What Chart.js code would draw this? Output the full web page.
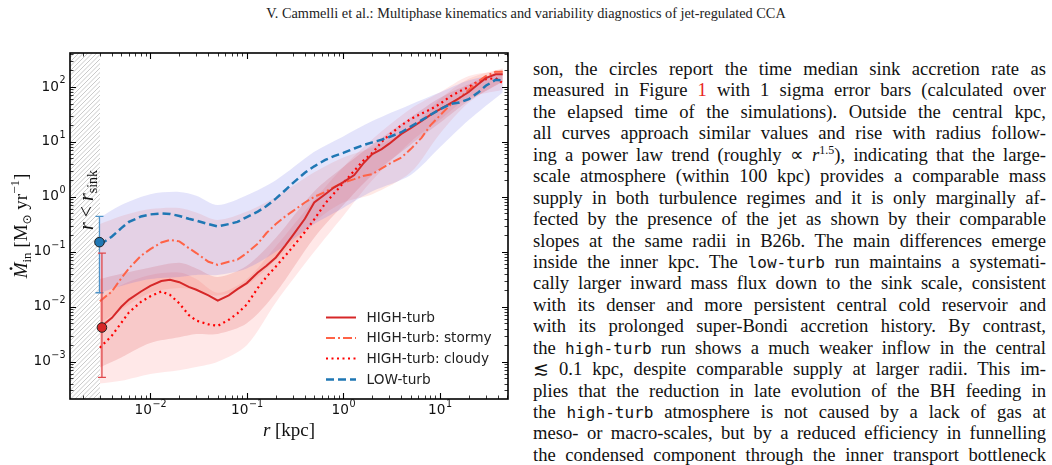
<!DOCTYPE html>
<html>
<head>
<meta charset="utf-8">
<script src="https://cdn.jsdelivr.net/npm/chart.js@4.4.1/dist/chart.umd.min.js"></script>
<style>
  body { margin: 0; width: 1052px; height: 465px; background: #fff; position: relative; overflow: hidden; }
  #header { position: absolute; top: 5px; left: 0; width: 1052px; text-align: center; font: 14.3px "Liberation Serif"; color: #222; }
  #chartBox { position: absolute; left: 0; top: 0; }
  #text { position: absolute; left: 533px; top: 58px; width: 513px; font: 18.6px "Liberation Serif"; color: #111; }
  #text div { height: 21.45px; line-height: 21.45px; text-align: justify; text-align-last: justify; overflow: hidden; }
  #text tt { font: 16px "DejaVu Sans Mono"; }
  #text sup { font-size: 12px; line-height: 0; vertical-align: 7px; }
  .red { color: #e8261c; }
</style>
</head>
<body>
<div id="header">V. Cammelli et al.: Multiphase kinematics and variability diagnostics of jet-regulated CCA</div>
<div id="chartBox"><canvas id="myChart" width="520" height="465"></canvas></div>
<div id="text">
  <div>son, the circles report the time median sink accretion rate as</div>
  <div>measured in Figure <span class="red">1</span> with 1 sigma error bars (calculated over</div>
  <div>the elapsed time of the simulations). Outside the central kpc,</div>
  <div>all curves approach similar values and rise with radius follow-</div>
  <div>ing a power law trend (roughly ∝ <i>r</i><sup>1.5</sup>), indicating that the large-</div>
  <div>scale atmosphere (within 100 kpc) provides a comparable mass</div>
  <div>supply in both turbulence regimes and it is only marginally af-</div>
  <div>fected by the presence of the jet as shown by their comparable</div>
  <div>slopes at the same radii in B26b. The main differences emerge</div>
  <div>inside the inner kpc. The <tt>low-turb</tt> run maintains a systemati-</div>
  <div>cally larger inward mass flux down to the sink scale, consistent</div>
  <div>with its denser and more persistent central cold reservoir and</div>
  <div>with its prolonged super-Bondi accretion history. By contrast,</div>
  <div>the <tt>high-turb</tt> run shows a much weaker inflow in the central</div>
  <div>≲ 0.1 kpc, despite comparable supply at larger radii. This im-</div>
  <div>plies that the reduction in late evolution of the BH feeding in</div>
  <div>the <tt>high-turb</tt> atmosphere is not caused by a lack of gas at</div>
  <div>meso- or macro-scales, but by a reduced efficiency in funnelling</div>
  <div>the condensed component through the inner transport bottleneck</div>
</div>
<script>
// radius [kpc] for the median profiles
const radius = [0.003, 0.004, 0.005, 0.006, 0.008, 0.01, 0.013, 0.016, 0.02, 0.025, 0.03, 0.04, 0.05, 0.065, 0.08, 0.1, 0.13, 0.16, 0.2, 0.25, 0.3, 0.4, 0.5, 0.65, 0.8, 1, 1.3, 1.6, 2, 2.5, 3, 4, 5, 6.5, 8, 10, 13, 16, 20, 25, 30, 38, 45];

// median inflow rate [Msun/yr]
const highTurb = [0.0042, 0.0063, 0.010, 0.0135, 0.019, 0.024, 0.0295, 0.031, 0.028, 0.023, 0.0204, 0.0162, 0.0129, 0.0162, 0.021, 0.027, 0.042, 0.056, 0.079, 0.13, 0.20, 0.40, 0.79, 1.12, 1.48, 1.86, 2.5, 4.0, 6.0, 7.4, 9.3, 14, 17.8, 24, 31, 39, 51, 63, 81, 112, 145, 170, 170];
const highStormy = [0.0126, 0.019, 0.033, 0.050, 0.085, 0.112, 0.148, 0.165, 0.155, 0.117, 0.095, 0.066, 0.058, 0.066, 0.072, 0.095, 0.141, 0.22, 0.32, 0.44, 0.55, 0.79, 1.0, 1.23, 1.51, 1.82, 2.1, 2.4, 2.6, 3.3, 4.0, 5.2, 7.4, 12, 20, 30, 48, 63, 89, 126, 158, 190, 190];
const highCloudy = [0.0018, 0.0030, 0.0051, 0.0079, 0.0123, 0.0155, 0.019, 0.0165, 0.0115, 0.0071, 0.0056, 0.0048, 0.0045, 0.0058, 0.0076, 0.011, 0.022, 0.035, 0.054, 0.085, 0.123, 0.23, 0.39, 0.76, 1.15, 1.78, 3.0, 4.5, 6.3, 10, 13.5, 20, 26, 33, 39, 49, 68, 83, 100, 126, 138, 145, 117];
const lowTurb = [0.135, 0.19, 0.27, 0.35, 0.44, 0.48, 0.50, 0.49, 0.45, 0.40, 0.37, 0.32, 0.29, 0.32, 0.35, 0.43, 0.54, 0.68, 0.93, 1.32, 1.78, 2.75, 3.6, 4.7, 5.5, 6.3, 7.6, 8.7, 9.8, 11, 12.3, 15, 19, 25, 31, 39, 49, 52, 60, 79, 105, 135, 132];

// spread around the medians
const bandRadius = [0.003, 0.005, 0.01, 0.02, 0.03, 0.05, 0.1, 0.2, 0.5, 1, 2, 5, 10, 20, 45];
const lowUpper = [0.42, 0.71, 1.12, 1.23, 1.05, 0.71, 1.07, 2.0, 6.6, 12.6, 24, 48, 79, 132, 178];
const lowLower = [0.018, 0.024, 0.032, 0.035, 0.038, 0.038, 0.05, 0.1, 0.32, 0.63, 1.26, 2.5, 7.9, 25, 79];
const highUpper = [0.032, 0.040, 0.052, 0.063, 0.050, 0.035, 0.056, 0.18, 1.26, 3.5, 8.9, 28, 63, 112, 210];
const highLower = [0.00079, 0.0012, 0.0022, 0.0028, 0.0032, 0.0032, 0.005, 0.018, 0.18, 0.71, 2.5, 8.9, 22, 56, 126];
const stormyUpper = [0.32, 0.45, 0.60, 0.63, 0.52, 0.38, 0.54, 1.0, 2.8, 5.2, 7.9, 17.8, 60, 141, 220];
const stormyLower = [0.005, 0.0089, 0.018, 0.022, 0.02, 0.016, 0.025, 0.071, 0.35, 0.79, 1.12, 2.8, 14, 52, 126];
const cloudyUpper = [0.014, 0.025, 0.038, 0.042, 0.032, 0.018, 0.032, 0.126, 0.89, 3.5, 11.2, 40, 79, 158, 200];
const cloudyLower = [0.0004, 0.00045, 0.0006, 0.0007, 0.0008, 0.001, 0.002, 0.012, 0.1, 0.45, 2.0, 10, 25, 63, 89];

// sink accretion rate (time median, 1 sigma)
const sinkRadius = [0.00297, 0.00315];
const sinkRate = [0.15, 0.0042];
const sinkLow = [0.018, 0.00052];
const sinkHigh = [0.44, 0.095];
const sinkColors = ['#1f77b4', '#d62728'];
const sinkBarColors = ['#4d93c9', '#e0474a'];

const rSink = 0.003;
const xMin = 0.00147, xMax = 51;
const yMin = 2.1e-4, yMax = 415;
const xTicks = [-2, -1, 0, 1];
const yTicks = [-3, -2, -1, 0, 1, 2];

const legendNames = ['HIGH-turb', 'HIGH-turb: stormy', 'HIGH-turb: cloudy', 'LOW-turb'];

function pts(xs, ys) {
  return xs.map((x, i) => ({ x: x, y: ys[i] }));
}

function band(xs, lo, hi, color) {
  return [
    { data: pts(xs, lo), borderWidth: 0, pointRadius: 0, fill: false, order: 10, tension: 0.3 },
    { data: pts(xs, hi), borderWidth: 0, pointRadius: 0, fill: '-1', backgroundColor: color, order: 10, tension: 0.3 },
  ];
}

const lines = [
  { label: legendNames[0], data: pts(radius, highTurb), borderColor: '#d62728', borderWidth: 2, borderDash: [], order: 1 },
  { label: legendNames[1], data: pts(radius, highStormy), borderColor: '#ff6347', borderWidth: 2, borderDash: [9, 3, 2, 3], order: 2 },
  { label: legendNames[2], data: pts(radius, highCloudy), borderColor: '#ff0000', borderWidth: 2.2, borderDash: [2, 3.5], order: 3 },
  { label: legendNames[3], data: pts(radius, lowTurb), borderColor: '#1f77b4', borderWidth: 2.5, borderDash: [8, 4], order: 0 },
];
lines.forEach(d => { d.pointRadius = 0; d.fill = false; });

const datasets = [].concat(
  band(bandRadius, lowLower, lowUpper, 'rgba(90,90,230,0.16)'),
  band(bandRadius, stormyLower, stormyUpper, 'rgba(255,99,71,0.14)'),
  band(bandRadius, highLower, highUpper, 'rgba(214,39,40,0.16)'),
  band(bandRadius, cloudyLower, cloudyUpper, 'rgba(255,0,0,0.09)'),
  lines
);

function drawPow(ctx, e, x, y, align) {
  const base = '10';
  const sup = (e < 0 ? '\u2212' : '') + Math.abs(e);
  ctx.font = '13.7px "DejaVu Sans"';
  const wb = ctx.measureText(base).width;
  ctx.font = '9.6px "DejaVu Sans"';
  const ws = ctx.measureText(sup).width;
  const x0 = align === 'right' ? x - wb - ws - 1 : x - (wb + ws) / 2;
  ctx.textAlign = 'left';
  ctx.textBaseline = 'middle';
  ctx.font = '13.7px "DejaVu Sans"';
  ctx.fillText(base, x0, y);
  ctx.font = '9.6px "DejaVu Sans"';
  ctx.fillText(sup, x0 + wb + 0.5, y - 6);
}

// parts: [text, font, dy, dot]
function drawRich(ctx, parts, cx, cy, rot) {
  ctx.save();
  ctx.translate(cx, cy);
  if (rot) ctx.rotate(rot);
  let total = 0;
  parts.forEach(p => { ctx.font = p[1]; p.w = ctx.measureText(p[0]).width; total += p.w; });
  let x = -total / 2;
  ctx.textAlign = 'left';
  ctx.textBaseline = 'alphabetic';
  parts.forEach(p => {
    ctx.font = p[1];
    ctx.fillText(p[0], x, p[2]);
    if (p[3]) {
      ctx.beginPath();
      ctx.arc(x + p.w * 0.62, p[2] - 16, 1.4, 0, Math.PI * 2);
      ctx.fill();
    }
    x += p.w;
  });
  ctx.restore();
}

const decorations = {
  id: 'decorations',
  beforeDatasetsDraw(chart) {
    const { ctx, chartArea: a, scales } = chart;
    const xs = scales.x.getPixelForValue(rSink);
    ctx.save();
    ctx.beginPath();
    ctx.rect(a.left, a.top, xs - a.left, a.bottom - a.top);
    ctx.clip();
    ctx.strokeStyle = '#bcbcbc';
    ctx.lineWidth = 0.8;
    for (let k = -400; k < 100; k += 4.5) {
      ctx.beginPath();
      ctx.moveTo(a.left + k, a.bottom);
      ctx.lineTo(a.left + k + (a.bottom - a.top), a.top);
      ctx.stroke();
    }
    ctx.restore();
  },
  afterDatasetsDraw(chart) {
    const { ctx, chartArea: a, scales } = chart;
    const sx = scales.x, sy = scales.y;
    ctx.save();

    // sink error bars and circles
    sinkRadius.forEach((r, i) => {
      const x = sx.getPixelForValue(r);
      const y0 = sy.getPixelForValue(sinkLow[i]);
      const y1 = sy.getPixelForValue(sinkHigh[i]);
      ctx.strokeStyle = sinkBarColors[i];
      ctx.lineWidth = 1.3;
      ctx.beginPath();
      ctx.moveTo(x, y0); ctx.lineTo(x, y1);
      ctx.moveTo(x - 4, y0); ctx.lineTo(x + 4, y0);
      ctx.moveTo(x - 4, y1); ctx.lineTo(x + 4, y1);
      ctx.stroke();
    });
    sinkRadius.forEach((r, i) => {
      const x = sx.getPixelForValue(r);
      const y = sy.getPixelForValue(sinkRate[i]);
      ctx.fillStyle = sinkColors[i];
      ctx.strokeStyle = '#222';
      ctx.lineWidth = 1;
      ctx.beginPath();
      ctx.arc(x, y, 4.8, 0, Math.PI * 2);
      ctx.fill();
      ctx.stroke();
    });

    // ticks on all four sides, pointing in
    ctx.strokeStyle = '#000';
    for (let e = -4; e <= 3; e++) {
      for (let m = 1; m <= 9; m++) {
        const v = m * Math.pow(10, e);
        const len = m === 1 ? 6 : 3.5;
        ctx.lineWidth = m === 1 ? 1.1 : 0.8;
        if (v > xMin && v < xMax) {
          const x = Math.round(sx.getPixelForValue(v)) + 0.5;
          ctx.beginPath();
          ctx.moveTo(x, a.bottom); ctx.lineTo(x, a.bottom - len);
          ctx.moveTo(x, a.top); ctx.lineTo(x, a.top + len);
          ctx.stroke();
        }
        if (v > yMin && v < yMax) {
          const y = Math.round(sy.getPixelForValue(v)) + 0.5;
          ctx.beginPath();
          ctx.moveTo(a.left, y); ctx.lineTo(a.left + len, y);
          ctx.moveTo(a.right, y); ctx.lineTo(a.right - len, y);
          ctx.stroke();
        }
      }
    }
    ctx.lineWidth = 1.6;
    ctx.strokeRect(a.left, a.top, a.right - a.left, a.bottom - a.top);

    // tick labels
    ctx.fillStyle = '#111';
    xTicks.forEach(e => drawPow(ctx, e, sx.getPixelForValue(Math.pow(10, e)), a.bottom + 11, 'center'));
    yTicks.forEach(e => drawPow(ctx, e, a.left - 4, sy.getPixelForValue(Math.pow(10, e)), 'right'));

    // axis labels
    drawRich(ctx, [
      ['r', 'italic 19px "Liberation Serif"', 6],
      [' [kpc]', '19px "Liberation Serif"', 6],
    ], (a.left + a.right) / 2, a.bottom + 31, 0);
    drawRich(ctx, [
      ['M', 'italic 19px "Liberation Serif"', 7, true],
      ['in', '13px "Liberation Serif"', 11],
      [' [M', '19px "Liberation Serif"', 7],
      ['\u2299', '12px "DejaVu Sans"', 11],
      [' yr', '19px "Liberation Serif"', 7],
      ['\u22121', '13px "Liberation Serif"', -1],
      [']', '19px "Liberation Serif"', 7],
    ], 20, 226, -Math.PI / 2);
    drawRich(ctx, [
      ['r', 'italic 20px "Liberation Serif"', 5],
      [' < ', '20px "Liberation Serif"', 5],
      ['r', 'italic 20px "Liberation Serif"', 5],
      ['sink', '14px "Liberation Serif"', 9],
    ], 88, 200, -Math.PI / 2);

    // legend
    const rows = [317.5, 338, 358.5, 379.5];
    chart.data.datasets.filter(d => d.label).forEach((d, i) => {
      ctx.strokeStyle = d.borderColor;
      ctx.lineWidth = d.borderWidth;
      ctx.setLineDash(d.borderDash);
      ctx.beginPath();
      ctx.moveTo(326, rows[i]); ctx.lineTo(356, rows[i]);
      ctx.stroke();
      ctx.setLineDash([]);
      ctx.fillStyle = '#222';
      ctx.font = '13.7px "DejaVu Sans"';
      ctx.textAlign = 'left';
      ctx.textBaseline = 'middle';
      ctx.fillText(d.label, 366.5, rows[i] + 0.5);
    });
    ctx.restore();
  }
};

const ctx = document.getElementById('myChart').getContext('2d');
const myChart = new Chart(ctx, {
  type: 'line',
  data: { datasets: datasets },
  options: {
    responsive: false,
    animation: false,
    devicePixelRatio: 1,
    layout: { padding: { left: 70, top: 53, right: 12, bottom: 66 } },
    plugins: { legend: { display: false }, tooltip: { enabled: false } },
    scales: {
      x: { type: 'logarithmic', min: xMin, max: xMax, display: false },
      y: { type: 'logarithmic', min: yMin, max: yMax, display: false },
    },
  },
  plugins: [decorations],
});
</script>
</body>
</html>
